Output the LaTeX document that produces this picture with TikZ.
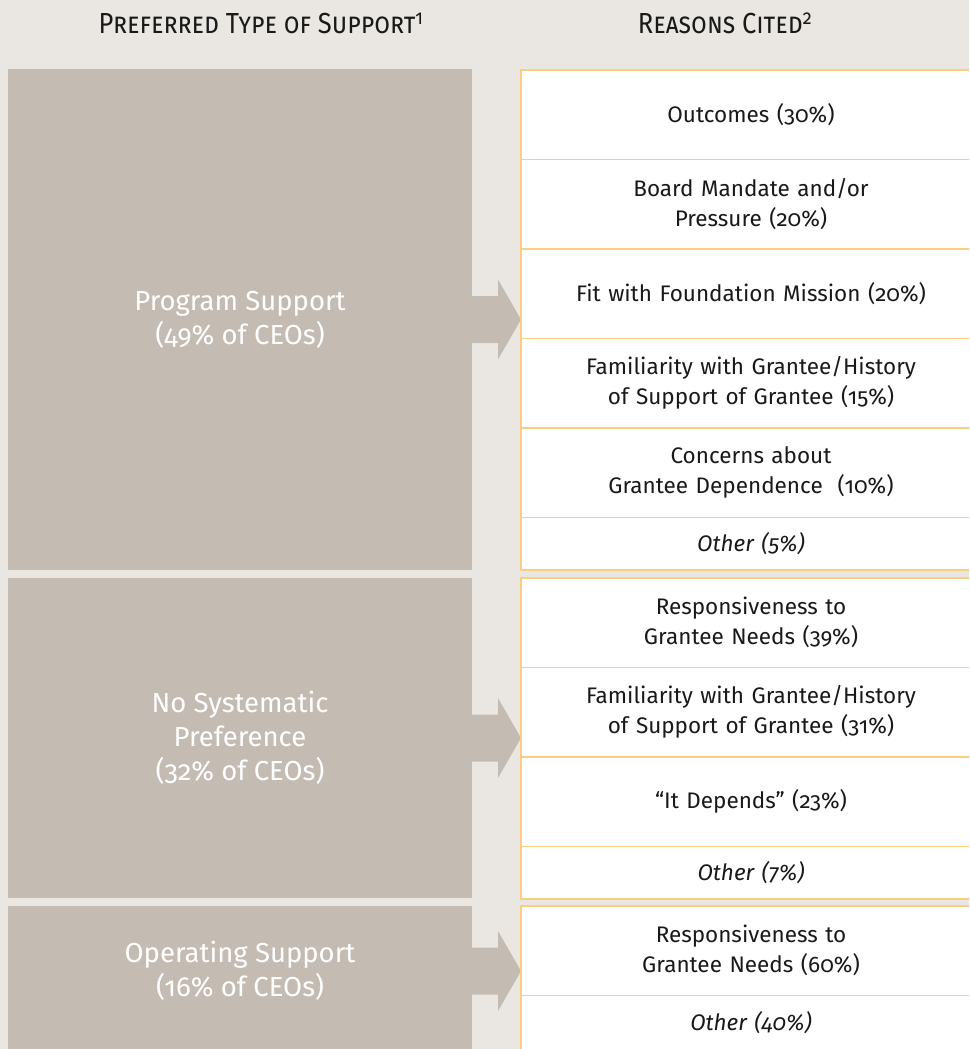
\documentclass[tikz,border=0pt]{standalone}
\usepackage{fontspec}
\usepackage{graphicx}
\setmainfont{Fira Sans}[RawFeature={+onum}]
\usetikzlibrary{positioning}
\definecolor{bg}{RGB}{234,231,226}
\definecolor{boxgray}{RGB}{196,188,179}
\definecolor{rim}{RGB}{250,206,128}
\definecolor{ink}{RGB}{25,25,25}

\begin{document}
\begin{tikzpicture}[x=1pt, y=-1pt, node distance=0pt,
  l/.style={fill=boxgray, text=white, minimum width=464pt, inner sep=0pt, outer sep=0pt, align=center, font=\fontsize{27.5}{34}\selectfont},
  r/.style={draw=rim, fill=white, line width=1.2pt, minimum width=460pt, text width=430pt, inner sep=0pt, outer sep=0pt, align=center, text=ink, font=\fontsize{22.5}{30}\selectfont},
  t/.style={minimum height=89.5pt},
  o/.style={minimum height=52.5pt, font=\fontsize{22.5}{30}\selectfont\itshape},
  h/.style={text=ink, font=\fontsize{29}{29}\selectfont},
  arr/.pic={\fill[boxgray] (0,-23.5) -- (26,-23.5) -- (26,-40) -- (49,0) -- (26,40) -- (26,23.5) -- (0,23.5) -- cycle;}]
  \fill[bg] (0,0) rectangle (969,1049);
  \clip (0,0) rectangle (969,1049);

  % headings
  \node[h] (T1) at (261,23) {\scalebox{0.88}[1]{\textsc{Preferred Type of Support}\textsuperscript{1}}};
  \node[h] (T2) at (725,23) {\scalebox{0.88}[1]{\textsc{Reasons Cited}\textsuperscript{2}}};

  % preferred type
  \node[l, minimum height=501pt] (P) at (240,319.5) {Program Support\\(49\% of CEOs)};
  \node[l, minimum height=320pt] (N) at (240,738) {No Systematic\\Preference\\(32\% of CEOs)};
  \node[l, minimum height=160pt, anchor=north] (O) at (240,906) {};
  \node[l, fill=none] (O_label) at (240,971) {Operating Support\\(16\% of CEOs)};
  \coordinate (O_tip) at (O.north east |- O_label);

  \pic at (P.east) {arr};
  \pic at (N.east) {arr};
  \pic at (O_tip) {arr};

  % reasons, program support
  \node[r, t, anchor=north west] (P1) at (521,70) {Outcomes (30\%)};
  \node[r, t, below=of P1] (P2) {Board Mandate and/or\\Pressure (20\%)};
  \node[r, t, below=of P2] (P3) {Fit with Foundation Mission (20\%)};
  \node[r, t, below=of P3] (P4) {Familiarity with Grantee/History\\of Support of Grantee (15\%)};
  \node[r, t, below=of P4] (P5) {Concerns about\\Grantee Dependence\ \ (10\%)};
  \node[r, o, below=of P5] (P6) {Other (5\%)};

  % reasons, no preference
  \node[r, t, anchor=north west] (N1) at (521,578) {Responsiveness to\\Grantee Needs (39\%)};
  \node[r, t, below=of N1] (N2) {Familiarity with Grantee/History\\of Support of Grantee (31\%)};
  \node[r, t, below=of N2] (N3) {“It Depends” (23\%)};
  \node[r, o, below=of N3] (N4) {Other (7\%)};

  % reasons, operating support
  \node[r, t, anchor=north west] (O1) at (521,906) {Responsiveness to\\Grantee Needs (60\%)};
  \node[r, o, minimum height=55pt, below=of O1] (O2) {Other (40\%)};
\end{tikzpicture}
\end{document}
